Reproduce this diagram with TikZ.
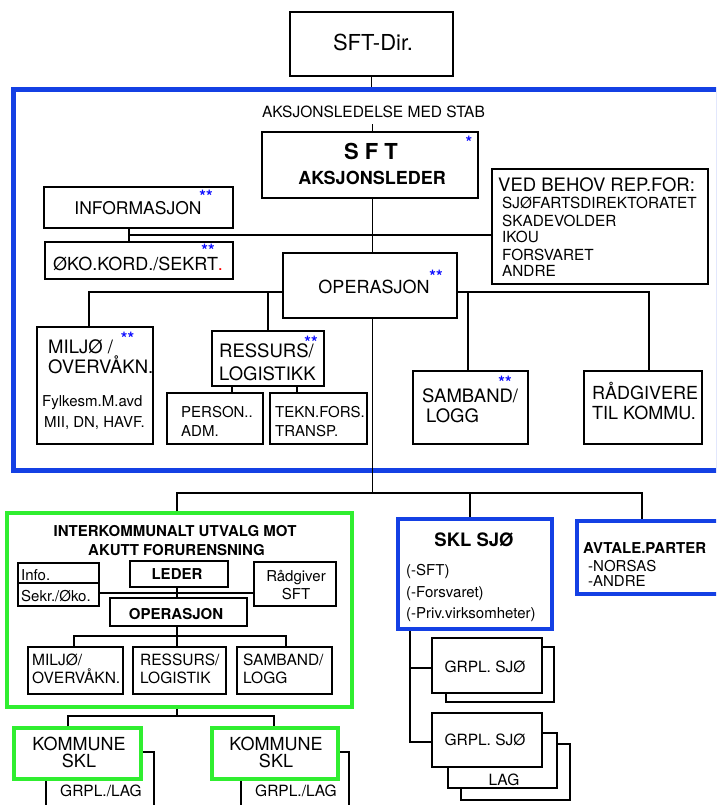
\documentclass[tikz,border=0pt]{standalone}
\usepackage{fontspec}
\setmainfont{TeX Gyre Heros}
\usetikzlibrary{fit,calc}
\definecolor{bigblue}{RGB}{20,64,228}
\definecolor{starblue}{RGB}{10,10,255}
\definecolor{lgreen}{RGB}{48,238,48}
\newcommand\fsz[1]{\fontsize{#1}{#1}\selectfont}
\newcommand\stars[1]{\raisebox{-0.43em}[0.3em][0pt]{#1}}
\begin{document}
\begin{tikzpicture}[x=1pt,y=-1pt,
  box/.style={draw=black, line width=1.2pt, fill=white, inner sep=0pt},
  bluebox/.style={draw=bigblue, line width=3.5pt, fill=white, inner sep=0pt},
  greenbox/.style={draw=lgreen, line width=3.5pt, fill=white, inner sep=0pt},
  conn/.style={draw=black, line width=1.2pt},
  tc/.style={inner sep=0pt, anchor=base},
  tw/.style={inner sep=0pt, anchor=base west},
  star/.style={inner sep=0pt, anchor=base, text=starblue, font=\fsz{17}\bfseries},
]
\useasboundingbox (0,0) rectangle (716,805);
\clip (0,0) rectangle (716,805);
\fill[white] (0,0) rectangle (716,805);

% ---- top
\node[box, fit={(290,12) (453,76)}] (sftdir) {};
\node[tc, font=\fsz{22}] (sftdirt) at (373,51) {SFT-Dir.};
\node[draw=bigblue, line width=5pt, inner sep=0pt, fit={(13,90) (718,470)}] (stab) {};
\node[tc, font=\fsz{15.5}] (akst) at (373.5,117.3) {AKSJONSLEDELSE MED STAB};
\node[box, fit={(262,132) (478,198)}] (leader) {};
\node[tc, font=\fsz{22}\bfseries] (sftt) at (371,159.3) {S F T};
\node[tc, font=\fsz{18}\bfseries] (aksl) at (372,185) {AKSJONSLEDER};
\node[star] (s0) at (469,141.6) {\stars{*}};

% ---- staff boxes
\node[box, fit={(44,187) (233,228)}] (info) {};
\node[tc, font=\fsz{17.5}] (infot) at (138,214) {INFORMASJON};
\node[star] (s1) at (206,195.6) {\stars{**}};

\node[box, fit={(45,242) (233,279)}] (oko) {};
\node[tw, font=\fsz{18}] (okot) at (53,270) {ØKO.KORD./SEKRT\textcolor{red}{.}};
\node[star] (s2) at (208,249.6) {\stars{**}};

\node[box, fit={(283,253) (457,318)}] (oper) {};
\node[tc, font=\fsz{18}] (opert) at (374,293) {OPERASJON};
\node[star] (s3) at (436,275.6) {\stars{**}};

\node[box, fit={(492,169) (708,284)}] (ved) {};
\node[tw, font=\fsz{18.5}] (ved0) at (498,191.7) {VED BEHOV REP.FOR:};
\node[tw, font=\fsz{15.3}] (ved1) at (502,208.3) {SJØFARTSDIREKTORATET};
\node[tw, font=\fsz{15.3}] (ved2) at (502,226) {SKADEVOLDER};
\node[tw, font=\fsz{15.3}] (ved3) at (502,242.3) {IKOU};
\node[tw, font=\fsz{15.3}] (ved4) at (502,260) {FORSVARET};
\node[tw, font=\fsz{15.3}] (ved5) at (502,276) {ANDRE};

\node[box, fit={(37,327) (153,444)}] (miljo) {};
\node[tw, font=\fsz{18.5}] (miljo1) at (48,353.3) {MILJØ /};
\node[tw, font=\fsz{18.5}] (miljo2t) at (48,373.3) {OVERVÅKN.};
\node[tw, font=\fsz{15}] (miljo3) at (42,406.7) {Fylkesm.M.avd};
\node[tw, font=\fsz{15}] (miljo4) at (44,427.7) {MII, DN, HAVF.};
\node[star] (s4) at (127.5,337) {\stars{**}};

\node[box, fit={(212,331) (324,386)}] (ressurs) {};
\node[tw, font=\fsz{18.5}] (ress1) at (219,357.7) {RESSURS/};
\node[tw, font=\fsz{18.5}] (ress2) at (219,380) {LOGISTIKK};
\node[star] (s5) at (311,341.2) {\stars{**}};

\node[box, fit={(167,393) (263,444)}] (person) {};
\node[tw, font=\fsz{15}] (pers1) at (181,417.3) {PERSON..};
\node[tw, font=\fsz{15}] (pers2) at (181,436) {ADM.};
\node[box, fit={(270,393) (367,444)}] (tekn) {};
\node[tw, font=\fsz{15}] (tekn1) at (275,417.3) {TEKN.FORS.};
\node[tw, font=\fsz{15}] (tekn2) at (275,436) {TRANSP.};

\node[box, fit={(413,371) (528,444)}] (samband) {};
\node[tw, font=\fsz{18.5}] (samb1) at (422,402.3) {SAMBAND/};
\node[tw, font=\fsz{18.5}] (samb2) at (426,422.7) {LOGG};
\node[star] (s6) at (505,381.4) {\stars{**}};

\node[box, fit={(584,371) (702,444)}] (radgiv) {};
\node[tw, font=\fsz{18}] (radg1) at (592,399.3) {RÅDGIVERE};
\node[tw, font=\fsz{18}] (radg2t) at (592,419.3) {TIL KOMMU.};

% ---- green committee
\node[greenbox, fit={(7,513) (352,707)}] (green) {};
\node[tc, font=\fsz{15}\bfseries] (gt1) at (175,536.7) {INTERKOMMUNALT UTVALG MOT};
\node[tc, font=\fsz{15}\bfseries] (gt2) at (176.5,555.7) {AKUTT FORURENSNING};
\node[box, fit={(18,563) (99,583)}] (infob) {};
\node[box, fit={(18,583) (99,606)}] (sekr) {};
\node[tw, font=\fsz{15}] (infobt) at (21,580.7) {Info.};
\node[tw, font=\fsz{15}] (sekrt) at (21,601) {Sekr./Øko.};
\node[box, fit={(130,561) (228,587)}] (leder) {};
\node[tc, font=\fsz{15}\bfseries] (ledert) at (177,579.3) {LEDER};
\node[box, fit={(254,562) (336,606)}] (radg2) {};
\node[tc, font=\fsz{15}] (radg2a) at (296,581.7) {Rådgiver};
\node[tc, font=\fsz{15}] (radg2b) at (296,599.3) {SFT};
\node[box, fit={(110,598) (247,626)}] (oper2) {};
\node[tc, font=\fsz{15}\bfseries] (oper2t) at (176,619) {OPERASJON};
\node[box, fit={(28,647) (123,694)}] (miljoB) {};
\node[tw, font=\fsz{15.5}] (mb1) at (32,665.7) {MILJØ/};
\node[tw, font=\fsz{15.5}] (mb2) at (32,683.3) {OVERVÅKN.};
\node[box, fit={(133,647) (226,694)}] (ressB) {};
\node[tw, font=\fsz{15.5}] (rb1) at (140,665.7) {RESSURS/};
\node[tw, font=\fsz{15.5}] (rb2) at (140,683.3) {LOGISTIK};
\node[box, fit={(237,647) (332,694)}] (sambB) {};
\node[tw, font=\fsz{15.5}] (sb1) at (243,665.7) {SAMBAND/};
\node[tw, font=\fsz{15.5}] (sb2) at (243,683.3) {LOGG};

% ---- kommune
\node[box, fit={(46,752) (154,830)}] (kom1b) {};
\node[greenbox, fit={(14,728) (141,779)}] (kom1) {};
\node[tc, font=\fsz{18}] (k1a) at (79,750) {KOMMUNE};
\node[tc, font=\fsz{18}] (k1b) at (79,767.7) {SKL};
\node[tc, font=\fsz{15.5}] (k1c) at (101,796.7) {GRPL./LAG};
\node[box, fit={(241,752) (349,830)}] (kom2b) {};
\node[greenbox, fit={(212,728) (338,779)}] (kom2) {};
\node[tc, font=\fsz{18}] (k2a) at (276,750) {KOMMUNE};
\node[tc, font=\fsz{18}] (k2b) at (276,767.7) {SKL};
\node[tc, font=\fsz{15.5}] (k2c) at (296,796.7) {GRPL./LAG};

% ---- SKL SJØ
\node[bluebox, fit={(398,519) (552,629)}] (sklsjo) {};
\node[tc, font=\fsz{18.5}\bfseries] (skl0) at (474,546.7) {SKL SJØ};
\node[tw, font=\fsz{15}] (skl1) at (406,575) {(-SFT)};
\node[tw, font=\fsz{15}] (skl2) at (406,597.7) {(-Forsvaret)};
\node[tw, font=\fsz{15}] (skl3) at (406,618.3) {(-Priv.virksomheter)};

\node[bluebox, fit={(577,521) (722,594)}] (avtale) {};
\node[tw, font=\fsz{15}\bfseries] (av0) at (583,553.3) {AVTALE.PARTER};
\node[tw, font=\fsz{15}] (av1) at (588,571.7) {-NORSAS};
\node[tw, font=\fsz{15}] (av2) at (588,586.7) {-ANDRE};

\node[box, fit={(446,647) (554,702)}] (grplAb) {};
\node[box, fit={(432,638) (542,693)}] (grplA) {};
\node[tc, font=\fsz{15.5}] (ga) at (485,672.7) {GRPL. SJØ};
\node[box, fit={(461,744) (570,800)}] (grplBc) {};
\node[box, fit={(448,733) (557,788)}] (grplBb) {};
\node[box, fit={(432,713) (542,767)}] (grplB) {};
\node[tc, font=\fsz{15.5}] (gb) at (485,745.7) {GRPL. SJØ};
\node[tc, font=\fsz{15.5}] (gl) at (504,785) {LAG};

% ---- connectors
\coordinate (cx) at (372.5,0);
\draw[conn] (sftdir.south) -- (sftdir.south |- stab.north);
\draw[conn] ($(cx |- akst.base)+(0,7)$) -- (cx |- leader.north);
\draw[conn] (cx |- leader.south) -- (cx |- oper.north);
\coordinate (j1) at (129,235);
\draw[conn] (j1 |- info.south) -- (j1 |- oko.north);
\draw[conn] (j1) -- (j1 -| ved.west);
\coordinate (jl) at (89,292);
\draw[conn] (jl |- miljo.north) -- (jl) -- (jl -| oper.west);
\draw[conn] (ressurs.north) -- (ressurs.north |- jl);
\coordinate (jr) at (649,292);
\draw[conn] (jr -| oper.east) -- (jr) -- (jr |- radgiv.north);
\coordinate (js) at (468,292);
\draw[conn] (js) -- (js |- samband.north);
\coordinate (jp) at (232,0);
\coordinate (jt) at (297,0);
\draw[conn] (jp |- ressurs.south) -- (jp |- person.north);
\draw[conn] (jt |- ressurs.south) -- (jt |- tekn.north);
\coordinate (jb) at (372.5,493);
\draw[conn] (cx |- oper.south) -- (jb);
\coordinate (jb1) at (177,493);
\coordinate (jb2) at (470,493);
\coordinate (jb3) at (642,493);
\draw[conn] (jb1 |- green.north) -- (jb1) -- (jb3) -- (jb3 |- avtale.north);
\draw[conn] (jb2) -- (jb2 |- sklsjo.north);
\coordinate (g1) at (99,593);
\draw[conn] (g1) -- (g1 -| radg2.west);
\coordinate (g2) at (177,0);
\draw[conn] (g2 |- leder.south) -- (g2 |- oper2.north);
\coordinate (g3) at (177,636);
\draw[conn] (g2 |- oper2.south) -- (g3);
\coordinate (g4) at (74,636);
\coordinate (g5) at (286,636);
\draw[conn] (g4 |- miljoB.north) -- (g4) -- (g5) -- (g5 |- sambB.north);
\draw[conn] (g3) -- (g3 |- ressB.north);
\coordinate (k0) at (177,716);
\coordinate (k1) at (68,716);
\coordinate (k2) at (274,716);
\draw[conn] (k0 |- green.south) -- (k0);
\draw[conn] (k1 |- kom1.north) -- (k1) -- (k2) -- (k2 |- kom2.north);
\coordinate (t1) at (410,668);
\coordinate (t2) at (410,742);
\draw[conn] (t1 |- sklsjo.south) -- (t2) -- (t2 -| grplB.west);
\draw[conn] (t1) -- (t1 -| grplA.west);
\end{tikzpicture}
\end{document}
